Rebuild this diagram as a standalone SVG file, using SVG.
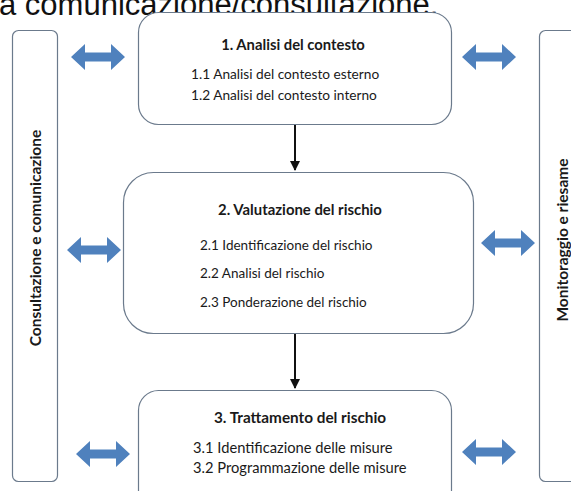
<svg xmlns="http://www.w3.org/2000/svg" width="571" height="491" viewBox="0 0 571 491">
<style>
.box{fill:#fff;stroke:#6b7a8c;stroke-width:1.2}
.t{font-family:Lato,"Liberation Sans",sans-serif;fill:#1a1a1a}
.b{font-weight:bold}
.side{font-family:Lato,"Liberation Sans",sans-serif;font-size:15.5px;font-weight:bold;fill:#1a1a1a}
.dbl{fill:#4f81bd}
.conn{stroke:#111;stroke-width:2;fill:none}
</style>
<defs>
<path id="darrow" d="M-27,0 L-13,-13 L-13,-4.5 L13,-4.5 L13,-13 L27,0 L13,13 L13,4.5 L-13,4.5 L-13,13 Z"/>
<marker id="ah" viewBox="0 0 10 10" refX="9" refY="5" markerWidth="5" markerHeight="5" orient="auto" markerUnits="strokeWidth">
<path d="M0,0 L10,5 L0,10 Z" fill="#111"/>
</marker>
</defs>
<rect width="571" height="491" fill="#fff"/>
<text x="-1" y="15" font-family="'Liberation Sans',Arial,sans-serif" font-size="31" fill="#111">a comunicazione/consultazione.</text>

<g id="consultazione">
<rect class="box" x="12.5" y="30.5" width="45" height="451" rx="6"/>
<text class="side" text-anchor="middle" transform="translate(40.5,238) rotate(-90)">Consultazione e comunicazione</text>
</g>
<g id="monitoraggio">
<rect class="box" x="539.5" y="30.5" width="45" height="451" rx="6"/>
<text class="side" text-anchor="middle" transform="translate(567.5,240) rotate(-90)">Monitoraggio e riesame</text>
</g>

<g id="n1">
<rect class="box" x="138.5" y="12.5" width="313" height="112" rx="20"/>
<text class="t b" x="293" y="50" text-anchor="middle" font-size="14.8">1. Analisi del contesto</text>
<text class="t" x="191" y="79" font-size="13.7">1.1 Analisi del contesto esterno</text>
<text class="t" x="191" y="100" font-size="13.7">1.2 Analisi del contesto interno</text>
</g>
<g id="n2">
<rect class="box" x="123.5" y="172.5" width="350" height="161" rx="30"/>
<text class="t b" x="300" y="215" text-anchor="middle" font-size="14.9">2. Valutazione del rischio</text>
<text class="t" x="200" y="250" font-size="13.5">2.1 Identificazione del rischio</text>
<text class="t" x="200" y="278" font-size="13.5">2.2 Analisi del rischio</text>
<text class="t" x="200" y="307" font-size="13.5">2.3 Ponderazione del rischio</text>
</g>
<g id="n3">
<rect class="box" x="138.5" y="390.5" width="313" height="120" rx="20"/>
<text class="t b" x="300" y="423" text-anchor="middle" font-size="15.3">3. Trattamento del rischio</text>
<text class="t" x="193" y="453" font-size="14.7">3.1 Identificazione delle misure</text>
<text class="t" x="193" y="473" font-size="14.7">3.2 Programmazione delle misure</text>
</g>

<g id="connectors">
<line class="conn" x1="295" y1="125" x2="295" y2="170" marker-end="url(#ah)"/>
<line class="conn" x1="295" y1="334" x2="295" y2="388" marker-end="url(#ah)"/>
<use href="#darrow" class="dbl" transform="translate(98,57)"/>
<use href="#darrow" class="dbl" transform="translate(489,57)"/>
<use href="#darrow" class="dbl" transform="translate(94,250)"/>
<use href="#darrow" class="dbl" transform="translate(508,243)"/>
<use href="#darrow" class="dbl" transform="translate(103,454)"/>
<use href="#darrow" class="dbl" transform="translate(489,452)"/>
</g>
</svg>
